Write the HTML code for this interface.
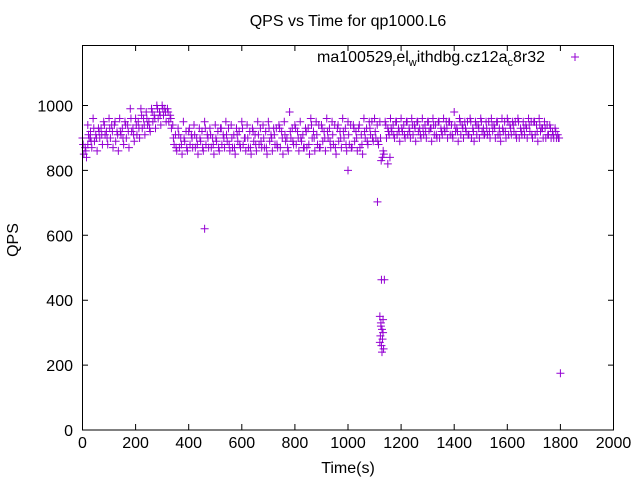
<!DOCTYPE html>
<html><head><meta charset="utf-8"><style>
body{margin:0;background:#fff;}
svg text{font-family:"Liberation Sans",sans-serif;font-size:16px;fill:#000;}
</style></head><body>
<svg width="640" height="480" xmlns="http://www.w3.org/2000/svg">
<rect width="640" height="480" fill="#fff"/>
<text x="348" y="26" text-anchor="middle">QPS vs Time for qp1000.L6</text>
<text x="18" y="240" text-anchor="middle" transform="rotate(-90 18 240)">QPS</text>
<text x="348" y="473" text-anchor="middle">Time(s)</text>
<g id="axes"></g>
<g id="pts"></g>
<g>
<text x="545" y="62" text-anchor="end">ma100529<tspan font-size="11" dy="4">r</tspan><tspan dy="-4">el</tspan><tspan font-size="11" dy="4">w</tspan><tspan dy="-4">ithdbg.cz12a</tspan><tspan font-size="11" dy="4">c</tspan><tspan dy="-4">8r32</tspan></text>
<path d="M571 57h8M575 53v8" stroke="#9400d3" stroke-width="1"/>
</g>
<rect x="82.5" y="45.5" width="531" height="384.5" fill="none" stroke="#000"/>
</svg>
<script>
const xTicks=[0,200,400,600,800,1000,1200,1400,1600,1800,2000];
const yTicks=[0,200,400,600,800,1000];
const qA=[900,940,960,930,950,960,940,960,950,990,960,990,980,990,1000,1000,990,940,930,950,920,940,930,950,930,940,930,950,940,930,950,940,930,950,940,950,930,940,950,980,940,950,930,960,950,940,960,950,930,960,950,940,930,960,950,960,950,950,960,950,960,950,960,950,960,950,960,950,960,950,980,960,950,960,950,960,950,960,950,960,960,950,960,950,960,950,960,950,940,930];
const qB=[870,920,910,930,920,940,920,930,940,930,950,960,950,970,980,990,970,910,900,920,910,900,920,910,900,920,910,930,910,920,900,920,910,930,920,910,930,920,900,930,920,910,930,920,940,920,930,940,920,930,940,920,910,930,950,940,840,930,940,930,940,930,940,930,940,930,940,930,950,940,930,940,950,930,940,930,950,940,930,950,940,950,930,940,950,940,930,940,920,910];
const qC=[850,900,890,900,910,900,890,910,900,920,910,930,940,950,960,970,950,880,870,890,880,870,890,880,870,890,880,890,870,890,880,870,890,880,870,890,880,870,890,900,880,890,870,900,880,890,900,880,890,900,880,890,870,900,910,900,830,900,920,910,920,910,910,920,910,920,910,900,920,910,920,910,920,900,910,920,910,920,910,920,910,920,900,910,920,910,920,900,900,900];
const qD=[840,870,860,880,880,870,860,880,870,890,900,910,920,930,940,950,930,860,850,860,870,850,860,870,850,860,870,860,850,870,860,850,860,870,850,860,870,850,860,880,860,870,850,860,870,860,870,850,870,860,870,860,850,880,890,880,850,910,900,890,900,900,890,900,900,890,900,910,900,900,890,900,910,890,900,910,900,900,890,900,910,900,910,900,900,890,900,910,900,900];
const qE=[880,910,930,920,940,930,950,920,940,960,940,970,960,980,990,990,980,900,910,900,930,910,900,930,910,900,930,910,900,910,930,900,920,910,900,930,910,930,910,920,930,900,920,940,910,930,920,910,940,920,910,930,940,920,930,920,900,940,930,950,930,950,940,950,930,950,940,950,930,950,940,950,930,950,940,950,930,940,950,930,950,940,950,930,940,950,940,930,930,920];
const qF=[860,890,900,910,900,920,910,900,920,910,930,940,930,960,970,980,960,870,880,870,900,880,870,900,880,870,900,880,870,880,900,870,880,890,870,900,880,900,870,890,900,870,880,900,870,900,890,870,900,880,870,900,880,890,900,890,860,920,910,920,910,920,930,910,920,930,910,920,930,910,920,930,910,920,930,910,920,930,910,920,930,910,920,930,910,920,930,910,910,900];
const outT=[460,1000,1111,1126,1137,1120,1124,1128,1132,1122,1130,1126,1134,1120,1128,1124,1132,1800,1150,1158,20,30];
const outQ=[620,800,703,463,463,350,330,310,300,290,280,260,250,270,240,320,340,175,820,840,880,900];
const X=t=>82.5+t*531/2000, Y=q=>430-q*0.3245;
const ax=document.getElementById('axes');
const NS='http://www.w3.org/2000/svg';
function mk(tag,attrs,parent){const e=document.createElementNS(NS,tag);for(const k in attrs)e.setAttribute(k,attrs[k]);parent.appendChild(e);return e;}
xTicks.forEach(v=>{
 const l=mk('path',{d:`M${X(v)} 430v-6M${X(v)} 45v6`,stroke:'#000'},ax);
 
 
 const t=mk('text',{x:X(v),y:448,'text-anchor':'middle'},ax);t.textContent=v;
 
 
});
yTicks.forEach(v=>{
 const l=mk('path',{d:`M82 ${Y(v)}h6M614 ${Y(v)}h-6`,stroke:'#000'},ax);
 
 
 const t=mk('text',{x:73,y:Y(v)+6,'text-anchor':'end'},ax);t.textContent=v;
 
 
});
const g=document.getElementById('pts');
function cross(t,q){const p=mk('path',{d:`M${X(t)-4} ${Y(q)}h8M${X(t)} ${Y(q)-4}v8`,stroke:'#9400d3','stroke-width':1},g);
 
 }
qA.forEach((q,i)=>cross(i*20,q));
qB.forEach((q,i)=>cross(i*20+10,q));
qC.forEach((q,i)=>cross(i*20+5,q));
qD.forEach((q,i)=>cross(i*20+15,q));
qE.forEach((q,i)=>cross(i*20+2.5,q));
qF.forEach((q,i)=>cross(i*20+12.5,q));
outT.forEach((t,i)=>cross(t,outQ[i]));
</script>
</body></html>
